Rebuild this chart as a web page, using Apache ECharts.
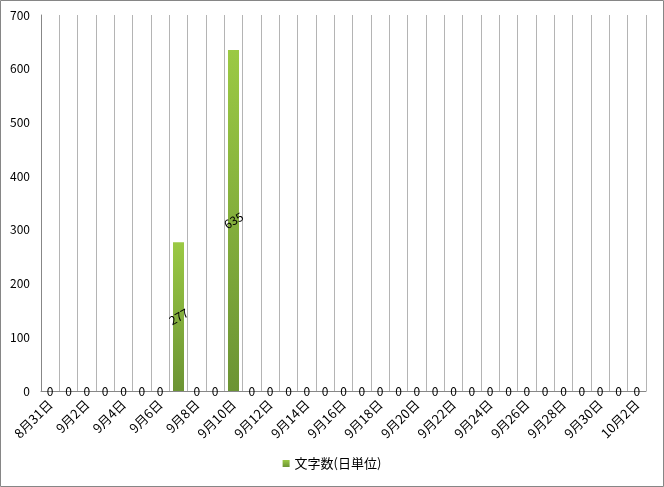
<!DOCTYPE html>
<html>
<head>
<meta charset="utf-8">
<script src="https://cdn.jsdelivr.net/npm/echarts@6/dist/echarts.min.js"></script>
<style>
html,body{margin:0;padding:0;background:#fff;}
#c{width:664px;height:487px;}
</style>
</head>
<body>
<div id="c"></div>
<script>
var categories = ['8月31日','9月1日','9月2日','9月3日','9月4日','9月5日','9月6日','9月7日','9月8日','9月9日','9月10日','9月11日','9月12日','9月13日','9月14日','9月15日','9月16日','9月17日','9月18日','9月19日','9月20日','9月21日','9月22日','9月23日','9月24日','9月25日','9月26日','9月27日','9月28日','9月29日','9月30日','10月1日','10月2日'];
var values = [0,0,0,0,0,0,0,277,0,0,635,0,0,0,0,0,0,0,0,0,0,0,0,0,0,0,0,0,0,0,0,0,0];
var seriesName = '文字数(日単位)';
var yTicks = {min:0, max:700, interval:100};

var font = '"Noto Sans CJK JP", "Noto Sans", sans-serif';
var chart = echarts.init(document.getElementById('c'));
var data = values.map(function(v){
  return v > 0 ? {value:v, label:{rotate:30}} : {value:v};
});
chart.setOption({
  animation:false,
  backgroundColor:'#fff',
  graphic:[{type:'rect',shape:{x:0.5,y:0.5,width:663,height:486},style:{fill:'none',stroke:'#868686',lineWidth:1},silent:true}],
  grid:{left:41,right:18,top:15,bottom:96},
  legend:{
    bottom:12,left:'center',
    itemWidth:7,itemHeight:7,icon:'rect',itemGap:4,
    textStyle:{fontFamily:font,fontSize:13,color:'#000'},
    data:[seriesName]
  },
  xAxis:{
    type:'category',
    data:categories,
    boundaryGap:true,
    axisLine:{show:true,lineStyle:{color:'#878787'}},
    axisTick:{show:false},
    splitLine:{show:true,interval:0,lineStyle:{color:'#b4b4b4',width:1}},
    axisLabel:{interval:1,rotate:45,fontFamily:font,fontSize:13,color:'#000',margin:11}
  },
  yAxis:{
    type:'value',
    min:yTicks.min,max:yTicks.max,interval:yTicks.interval,
    axisLine:{show:true,lineStyle:{color:'#878787'}},
    axisTick:{show:false},
    splitLine:{show:false},
    axisLabel:{fontFamily:font,fontSize:12,color:'#000',margin:11}
  },
  series:[{
    name:seriesName,
    type:'bar',
    data:data,
    barCategoryGap:'40%',
    itemStyle:{
      color:new echarts.graphic.LinearGradient(0,0,0,1,[
        {offset:0,color:'#9bc944'},
        {offset:1,color:'#6c9434'}
      ])
    },
    label:{
      show:true,position:'inside',
      fontFamily:font,fontSize:12,color:'#000'
    }
  }]
});
</script>
</body>
</html>
